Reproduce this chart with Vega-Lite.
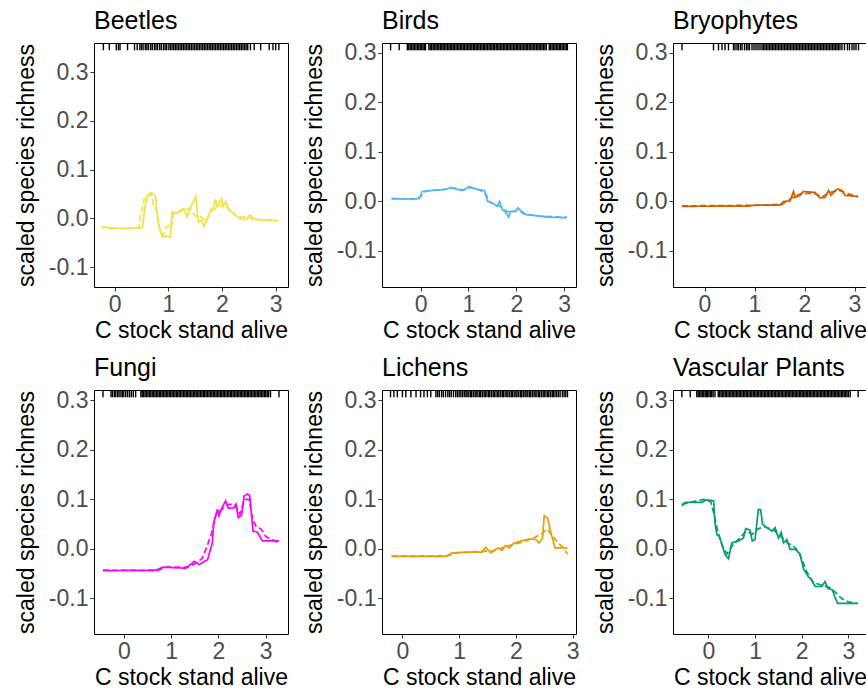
{
  "$schema": "https://vega.github.io/schema/vega-lite/v6.json",
  "background": "white",
  "padding": {"left": 14, "top": 8, "right": 0, "bottom": 0},
  "config": {
    "font": "Liberation Sans",
    "view": {"stroke": "black", "strokeWidth": 1},
    "axis": {"grid": false, "domain": false, "tickColor": "#333333", "tickSize": 4, "labelFontSize": 23, "labelColor": "#4D4D4D", "labelPadding": 2, "titleFontSize": 23, "titleFontWeight": "normal", "titleColor": "black", "titlePadding": 8},
    "axisY": {"titlePadding": 10},
    "axisX": {"titlePadding": 3},
    "title": {"fontSize": 25, "fontWeight": "normal", "anchor": "start", "frame": "group", "color": "black", "offset": 8},
    "line": {"strokeWidth": 1.7, "clip": true},
    "rule": {"color": "black", "strokeWidth": 1.4}
  },
  "columns": 3,
  "spacing": {"row": 12, "column": 13},
  "datasets": {
    "curves": [
      {"t":"Beetles","m":"solid","x":-0.21,"y":-0.017},{"t":"Beetles","m":"solid","x":-0.1,"y":-0.02},{"t":"Beetles","m":"solid","x":0.2,"y":-0.021},{"t":"Beetles","m":"solid","x":0.35,"y":-0.02},{"t":"Beetles","m":"solid","x":0.52,"y":-0.019},{"t":"Beetles","m":"solid","x":0.56,"y":0.02},{"t":"Beetles","m":"solid","x":0.6,"y":0.045},{"t":"Beetles","m":"solid","x":0.67,"y":0.053},{"t":"Beetles","m":"solid","x":0.72,"y":0.05},{"t":"Beetles","m":"solid","x":0.76,"y":0.045},{"t":"Beetles","m":"solid","x":0.8,"y":0.0},{"t":"Beetles","m":"solid","x":0.86,"y":-0.03},{"t":"Beetles","m":"solid","x":0.89,"y":-0.039},{"t":"Beetles","m":"solid","x":0.95,"y":-0.036},{"t":"Beetles","m":"solid","x":1.04,"y":-0.039},{"t":"Beetles","m":"solid","x":1.07,"y":0.014},{"t":"Beetles","m":"solid","x":1.15,"y":0.01},{"t":"Beetles","m":"solid","x":1.23,"y":0.017},{"t":"Beetles","m":"solid","x":1.29,"y":0.02},{"t":"Beetles","m":"solid","x":1.35,"y":0.003},{"t":"Beetles","m":"solid","x":1.42,"y":0.024},{"t":"Beetles","m":"solid","x":1.51,"y":0.045},{"t":"Beetles","m":"solid","x":1.56,"y":-0.007},{"t":"Beetles","m":"solid","x":1.63,"y":-0.004},{"t":"Beetles","m":"solid","x":1.66,"y":-0.017},{"t":"Beetles","m":"solid","x":1.73,"y":0.0},{"t":"Beetles","m":"solid","x":1.79,"y":0.017},{"t":"Beetles","m":"solid","x":1.85,"y":0.024},{"t":"Beetles","m":"solid","x":1.88,"y":0.039},{"t":"Beetles","m":"solid","x":1.91,"y":0.024},{"t":"Beetles","m":"solid","x":1.99,"y":0.041},{"t":"Beetles","m":"solid","x":2.02,"y":0.024},{"t":"Beetles","m":"solid","x":2.07,"y":0.034},{"t":"Beetles","m":"solid","x":2.13,"y":0.017},{"t":"Beetles","m":"solid","x":2.22,"y":0.01},{"t":"Beetles","m":"solid","x":2.32,"y":0.0},{"t":"Beetles","m":"solid","x":2.41,"y":-0.003},{"t":"Beetles","m":"solid","x":2.47,"y":0.0},{"t":"Beetles","m":"solid","x":2.52,"y":0.007},{"t":"Beetles","m":"solid","x":2.6,"y":-0.002},{"t":"Beetles","m":"solid","x":2.75,"y":-0.003},{"t":"Beetles","m":"solid","x":3.05,"y":-0.005},
      {"t":"Beetles","m":"dashed","x":-0.25,"y":-0.018},{"t":"Beetles","m":"dashed","x":0.2,"y":-0.021},{"t":"Beetles","m":"dashed","x":0.45,"y":-0.02},{"t":"Beetles","m":"dashed","x":0.47,"y":0.0},{"t":"Beetles","m":"dashed","x":0.55,"y":0.04},{"t":"Beetles","m":"dashed","x":0.68,"y":0.05},{"t":"Beetles","m":"dashed","x":0.72,"y":0.03},{"t":"Beetles","m":"dashed","x":0.77,"y":0.02},{"t":"Beetles","m":"dashed","x":0.83,"y":-0.02},{"t":"Beetles","m":"dashed","x":0.9,"y":-0.035},{"t":"Beetles","m":"dashed","x":0.95,"y":-0.02},{"t":"Beetles","m":"dashed","x":1.0,"y":-0.015},{"t":"Beetles","m":"dashed","x":1.05,"y":-0.02},{"t":"Beetles","m":"dashed","x":1.1,"y":0.01},{"t":"Beetles","m":"dashed","x":1.25,"y":0.015},{"t":"Beetles","m":"dashed","x":1.4,"y":0.02},{"t":"Beetles","m":"dashed","x":1.5,"y":0.005},{"t":"Beetles","m":"dashed","x":1.6,"y":0.004},{"t":"Beetles","m":"dashed","x":1.7,"y":-0.005},{"t":"Beetles","m":"dashed","x":1.8,"y":0.015},{"t":"Beetles","m":"dashed","x":1.95,"y":0.025},{"t":"Beetles","m":"dashed","x":2.05,"y":0.03},{"t":"Beetles","m":"dashed","x":2.15,"y":0.015},{"t":"Beetles","m":"dashed","x":2.3,"y":0.003},{"t":"Beetles","m":"dashed","x":2.5,"y":0.002},{"t":"Beetles","m":"dashed","x":2.6,"y":-0.002},{"t":"Beetles","m":"dashed","x":3.05,"y":-0.005},
      {"t":"Birds","m":"solid","x":-0.61,"y":0.005},{"t":"Birds","m":"solid","x":-0.07,"y":0.005},{"t":"Birds","m":"solid","x":-0.01,"y":0.01},{"t":"Birds","m":"solid","x":0.03,"y":0.02},{"t":"Birds","m":"solid","x":0.24,"y":0.022},{"t":"Birds","m":"solid","x":0.52,"y":0.024},{"t":"Birds","m":"solid","x":0.63,"y":0.028},{"t":"Birds","m":"solid","x":0.73,"y":0.025},{"t":"Birds","m":"solid","x":0.87,"y":0.022},{"t":"Birds","m":"solid","x":1.01,"y":0.03},{"t":"Birds","m":"solid","x":1.15,"y":0.025},{"t":"Birds","m":"solid","x":1.33,"y":0.022},{"t":"Birds","m":"solid","x":1.4,"y":0.0},{"t":"Birds","m":"solid","x":1.5,"y":-0.003},{"t":"Birds","m":"solid","x":1.6,"y":-0.01},{"t":"Birds","m":"solid","x":1.65,"y":0.0},{"t":"Birds","m":"solid","x":1.71,"y":-0.017},{"t":"Birds","m":"solid","x":1.78,"y":-0.022},{"t":"Birds","m":"solid","x":1.84,"y":-0.032},{"t":"Birds","m":"solid","x":1.88,"y":-0.02},{"t":"Birds","m":"solid","x":1.99,"y":-0.02},{"t":"Birds","m":"solid","x":2.04,"y":-0.013},{"t":"Birds","m":"solid","x":2.13,"y":-0.024},{"t":"Birds","m":"solid","x":2.21,"y":-0.027},{"t":"Birds","m":"solid","x":2.41,"y":-0.029},{"t":"Birds","m":"solid","x":2.69,"y":-0.032},{"t":"Birds","m":"solid","x":3.06,"y":-0.033},
      {"t":"Birds","m":"dashed","x":-0.61,"y":0.006},{"t":"Birds","m":"dashed","x":-0.05,"y":0.004},{"t":"Birds","m":"dashed","x":0.02,"y":0.012},{"t":"Birds","m":"dashed","x":0.1,"y":0.02},{"t":"Birds","m":"dashed","x":0.3,"y":0.023},{"t":"Birds","m":"dashed","x":0.6,"y":0.025},{"t":"Birds","m":"dashed","x":0.7,"y":0.027},{"t":"Birds","m":"dashed","x":0.9,"y":0.023},{"t":"Birds","m":"dashed","x":1.05,"y":0.028},{"t":"Birds","m":"dashed","x":1.2,"y":0.024},{"t":"Birds","m":"dashed","x":1.35,"y":0.018},{"t":"Birds","m":"dashed","x":1.45,"y":-0.002},{"t":"Birds","m":"dashed","x":1.55,"y":-0.006},{"t":"Birds","m":"dashed","x":1.7,"y":-0.012},{"t":"Birds","m":"dashed","x":1.8,"y":-0.02},{"t":"Birds","m":"dashed","x":1.9,"y":-0.022},{"t":"Birds","m":"dashed","x":2.05,"y":-0.016},{"t":"Birds","m":"dashed","x":2.2,"y":-0.026},{"t":"Birds","m":"dashed","x":2.5,"y":-0.03},{"t":"Birds","m":"dashed","x":3.06,"y":-0.032},
      {"t":"Bryophytes","m":"solid","x":-0.45,"y":-0.01},{"t":"Bryophytes","m":"solid","x":0.88,"y":-0.0095},{"t":"Bryophytes","m":"solid","x":1.01,"y":-0.0075},{"t":"Bryophytes","m":"solid","x":1.51,"y":-0.0075},{"t":"Bryophytes","m":"solid","x":1.58,"y":0.0},{"t":"Bryophytes","m":"solid","x":1.71,"y":0.001},{"t":"Bryophytes","m":"solid","x":1.78,"y":0.02},{"t":"Bryophytes","m":"solid","x":1.81,"y":0.008},{"t":"Bryophytes","m":"solid","x":1.91,"y":0.012},{"t":"Bryophytes","m":"solid","x":1.98,"y":0.02},{"t":"Bryophytes","m":"solid","x":2.21,"y":0.018},{"t":"Bryophytes","m":"solid","x":2.31,"y":0.007},{"t":"Bryophytes","m":"solid","x":2.41,"y":0.008},{"t":"Bryophytes","m":"solid","x":2.48,"y":0.022},{"t":"Bryophytes","m":"solid","x":2.53,"y":0.012},{"t":"Bryophytes","m":"solid","x":2.61,"y":0.022},{"t":"Bryophytes","m":"solid","x":2.68,"y":0.025},{"t":"Bryophytes","m":"solid","x":2.75,"y":0.022},{"t":"Bryophytes","m":"solid","x":2.81,"y":0.012},{"t":"Bryophytes","m":"solid","x":3.07,"y":0.01},
      {"t":"Bryophytes","m":"dashed","x":-0.45,"y":-0.009},{"t":"Bryophytes","m":"dashed","x":1.0,"y":-0.008},{"t":"Bryophytes","m":"dashed","x":1.55,"y":-0.006},{"t":"Bryophytes","m":"dashed","x":1.7,"y":0.004},{"t":"Bryophytes","m":"dashed","x":1.8,"y":0.01},{"t":"Bryophytes","m":"dashed","x":1.95,"y":0.016},{"t":"Bryophytes","m":"dashed","x":2.2,"y":0.016},{"t":"Bryophytes","m":"dashed","x":2.35,"y":0.009},{"t":"Bryophytes","m":"dashed","x":2.5,"y":0.018},{"t":"Bryophytes","m":"dashed","x":2.7,"y":0.022},{"t":"Bryophytes","m":"dashed","x":2.85,"y":0.016},{"t":"Bryophytes","m":"dashed","x":3.07,"y":0.009},
      {"t":"Fungi","m":"solid","x":-0.44,"y":-0.044},{"t":"Fungi","m":"solid","x":0.68,"y":-0.043},{"t":"Fungi","m":"solid","x":0.82,"y":-0.037},{"t":"Fungi","m":"solid","x":1.31,"y":-0.039},{"t":"Fungi","m":"solid","x":1.49,"y":-0.025},{"t":"Fungi","m":"solid","x":1.59,"y":-0.032},{"t":"Fungi","m":"solid","x":1.77,"y":-0.022},{"t":"Fungi","m":"solid","x":1.87,"y":0.012},{"t":"Fungi","m":"solid","x":1.9,"y":0.053},{"t":"Fungi","m":"solid","x":1.98,"y":0.08},{"t":"Fungi","m":"solid","x":2.01,"y":0.067},{"t":"Fungi","m":"solid","x":2.08,"y":0.084},{"t":"Fungi","m":"solid","x":2.15,"y":0.097},{"t":"Fungi","m":"solid","x":2.21,"y":0.082},{"t":"Fungi","m":"solid","x":2.33,"y":0.083},{"t":"Fungi","m":"solid","x":2.37,"y":0.09},{"t":"Fungi","m":"solid","x":2.42,"y":0.063},{"t":"Fungi","m":"solid","x":2.49,"y":0.068},{"t":"Fungi","m":"solid","x":2.54,"y":0.107},{"t":"Fungi","m":"solid","x":2.61,"y":0.111},{"t":"Fungi","m":"solid","x":2.66,"y":0.108},{"t":"Fungi","m":"solid","x":2.73,"y":0.036},{"t":"Fungi","m":"solid","x":2.82,"y":0.034},{"t":"Fungi","m":"solid","x":2.93,"y":0.016},{"t":"Fungi","m":"solid","x":3.28,"y":0.016},
      {"t":"Fungi","m":"dashed","x":-0.44,"y":-0.043},{"t":"Fungi","m":"dashed","x":0.7,"y":-0.044},{"t":"Fungi","m":"dashed","x":0.9,"y":-0.037},{"t":"Fungi","m":"dashed","x":1.35,"y":-0.037},{"t":"Fungi","m":"dashed","x":1.5,"y":-0.03},{"t":"Fungi","m":"dashed","x":1.65,"y":-0.02},{"t":"Fungi","m":"dashed","x":1.75,"y":0.003},{"t":"Fungi","m":"dashed","x":1.85,"y":0.03},{"t":"Fungi","m":"dashed","x":1.95,"y":0.07},{"t":"Fungi","m":"dashed","x":2.05,"y":0.078},{"t":"Fungi","m":"dashed","x":2.2,"y":0.09},{"t":"Fungi","m":"dashed","x":2.35,"y":0.09},{"t":"Fungi","m":"dashed","x":2.45,"y":0.07},{"t":"Fungi","m":"dashed","x":2.55,"y":0.1},{"t":"Fungi","m":"dashed","x":2.65,"y":0.1},{"t":"Fungi","m":"dashed","x":2.72,"y":0.06},{"t":"Fungi","m":"dashed","x":2.8,"y":0.045},{"t":"Fungi","m":"dashed","x":2.9,"y":0.04},{"t":"Fungi","m":"dashed","x":3.0,"y":0.025},{"t":"Fungi","m":"dashed","x":3.28,"y":0.012},
      {"t":"Lichens","m":"solid","x":-0.19,"y":-0.015},{"t":"Lichens","m":"solid","x":0.76,"y":-0.015},{"t":"Lichens","m":"solid","x":0.88,"y":-0.008},{"t":"Lichens","m":"solid","x":1.29,"y":-0.006},{"t":"Lichens","m":"solid","x":1.4,"y":-0.007},{"t":"Lichens","m":"solid","x":1.47,"y":0.003},{"t":"Lichens","m":"solid","x":1.56,"y":-0.008},{"t":"Lichens","m":"solid","x":1.68,"y":0.002},{"t":"Lichens","m":"solid","x":1.76,"y":-0.003},{"t":"Lichens","m":"solid","x":1.82,"y":0.007},{"t":"Lichens","m":"solid","x":1.88,"y":0.002},{"t":"Lichens","m":"solid","x":1.97,"y":0.012},{"t":"Lichens","m":"solid","x":2.06,"y":0.015},{"t":"Lichens","m":"solid","x":2.12,"y":0.017},{"t":"Lichens","m":"solid","x":2.24,"y":0.02},{"t":"Lichens","m":"solid","x":2.35,"y":0.019},{"t":"Lichens","m":"solid","x":2.41,"y":0.012},{"t":"Lichens","m":"solid","x":2.47,"y":0.022},{"t":"Lichens","m":"solid","x":2.5,"y":0.067},{"t":"Lichens","m":"solid","x":2.56,"y":0.062},{"t":"Lichens","m":"solid","x":2.62,"y":0.032},{"t":"Lichens","m":"solid","x":2.69,"y":0.002},{"t":"Lichens","m":"solid","x":2.91,"y":0.002},
      {"t":"Lichens","m":"dashed","x":-0.19,"y":-0.014},{"t":"Lichens","m":"dashed","x":0.8,"y":-0.014},{"t":"Lichens","m":"dashed","x":0.95,"y":-0.008},{"t":"Lichens","m":"dashed","x":1.4,"y":-0.005},{"t":"Lichens","m":"dashed","x":1.6,"y":-0.004},{"t":"Lichens","m":"dashed","x":1.8,"y":0.004},{"t":"Lichens","m":"dashed","x":2.0,"y":0.01},{"t":"Lichens","m":"dashed","x":2.2,"y":0.017},{"t":"Lichens","m":"dashed","x":2.35,"y":0.024},{"t":"Lichens","m":"dashed","x":2.45,"y":0.03},{"t":"Lichens","m":"dashed","x":2.55,"y":0.04},{"t":"Lichens","m":"dashed","x":2.65,"y":0.025},{"t":"Lichens","m":"dashed","x":2.75,"y":0.012},{"t":"Lichens","m":"dashed","x":2.85,"y":0.0},{"t":"Lichens","m":"dashed","x":2.91,"y":-0.011},
      {"t":"Vascular Plants","m":"solid","x":-0.57,"y":0.087},{"t":"Vascular Plants","m":"solid","x":-0.5,"y":0.094},{"t":"Vascular Plants","m":"solid","x":-0.14,"y":0.094},{"t":"Vascular Plants","m":"solid","x":-0.04,"y":0.099},{"t":"Vascular Plants","m":"solid","x":0.11,"y":0.097},{"t":"Vascular Plants","m":"solid","x":0.14,"y":0.053},{"t":"Vascular Plants","m":"solid","x":0.18,"y":0.029},{"t":"Vascular Plants","m":"solid","x":0.23,"y":0.026},{"t":"Vascular Plants","m":"solid","x":0.29,"y":0.009},{"t":"Vascular Plants","m":"solid","x":0.36,"y":-0.012},{"t":"Vascular Plants","m":"solid","x":0.43,"y":-0.02},{"t":"Vascular Plants","m":"solid","x":0.5,"y":0.012},{"t":"Vascular Plants","m":"solid","x":0.64,"y":0.016},{"t":"Vascular Plants","m":"solid","x":0.75,"y":0.022},{"t":"Vascular Plants","m":"solid","x":0.8,"y":0.041},{"t":"Vascular Plants","m":"solid","x":0.89,"y":0.038},{"t":"Vascular Plants","m":"solid","x":0.94,"y":0.016},{"t":"Vascular Plants","m":"solid","x":1.0,"y":0.019},{"t":"Vascular Plants","m":"solid","x":1.07,"y":0.08},{"t":"Vascular Plants","m":"solid","x":1.12,"y":0.079},{"t":"Vascular Plants","m":"solid","x":1.16,"y":0.05},{"t":"Vascular Plants","m":"solid","x":1.25,"y":0.043},{"t":"Vascular Plants","m":"solid","x":1.36,"y":0.036},{"t":"Vascular Plants","m":"solid","x":1.43,"y":0.043},{"t":"Vascular Plants","m":"solid","x":1.5,"y":0.022},{"t":"Vascular Plants","m":"solid","x":1.56,"y":0.033},{"t":"Vascular Plants","m":"solid","x":1.61,"y":0.012},{"t":"Vascular Plants","m":"solid","x":1.68,"y":0.019},{"t":"Vascular Plants","m":"solid","x":1.75,"y":-0.001},{"t":"Vascular Plants","m":"solid","x":1.86,"y":-0.001},{"t":"Vascular Plants","m":"solid","x":1.96,"y":-0.01},{"t":"Vascular Plants","m":"solid","x":2.04,"y":-0.041},{"t":"Vascular Plants","m":"solid","x":2.14,"y":-0.056},{"t":"Vascular Plants","m":"solid","x":2.21,"y":-0.063},{"t":"Vascular Plants","m":"solid","x":2.29,"y":-0.076},{"t":"Vascular Plants","m":"solid","x":2.43,"y":-0.076},{"t":"Vascular Plants","m":"solid","x":2.5,"y":-0.066},{"t":"Vascular Plants","m":"solid","x":2.56,"y":-0.08},{"t":"Vascular Plants","m":"solid","x":2.66,"y":-0.083},{"t":"Vascular Plants","m":"solid","x":2.71,"y":-0.097},{"t":"Vascular Plants","m":"solid","x":2.77,"y":-0.11},{"t":"Vascular Plants","m":"solid","x":3.2,"y":-0.11},
      {"t":"Vascular Plants","m":"dashed","x":-0.57,"y":0.09},{"t":"Vascular Plants","m":"dashed","x":-0.3,"y":0.096},{"t":"Vascular Plants","m":"dashed","x":-0.1,"y":0.1},{"t":"Vascular Plants","m":"dashed","x":0.05,"y":0.095},{"t":"Vascular Plants","m":"dashed","x":0.12,"y":0.07},{"t":"Vascular Plants","m":"dashed","x":0.2,"y":0.035},{"t":"Vascular Plants","m":"dashed","x":0.3,"y":0.005},{"t":"Vascular Plants","m":"dashed","x":0.4,"y":-0.01},{"t":"Vascular Plants","m":"dashed","x":0.5,"y":0.005},{"t":"Vascular Plants","m":"dashed","x":0.6,"y":0.015},{"t":"Vascular Plants","m":"dashed","x":0.8,"y":0.035},{"t":"Vascular Plants","m":"dashed","x":0.95,"y":0.03},{"t":"Vascular Plants","m":"dashed","x":1.05,"y":0.04},{"t":"Vascular Plants","m":"dashed","x":1.2,"y":0.045},{"t":"Vascular Plants","m":"dashed","x":1.4,"y":0.038},{"t":"Vascular Plants","m":"dashed","x":1.55,"y":0.025},{"t":"Vascular Plants","m":"dashed","x":1.7,"y":0.012},{"t":"Vascular Plants","m":"dashed","x":1.85,"y":0.003},{"t":"Vascular Plants","m":"dashed","x":1.95,"y":-0.008},{"t":"Vascular Plants","m":"dashed","x":2.1,"y":-0.045},{"t":"Vascular Plants","m":"dashed","x":2.25,"y":-0.068},{"t":"Vascular Plants","m":"dashed","x":2.45,"y":-0.074},{"t":"Vascular Plants","m":"dashed","x":2.6,"y":-0.078},{"t":"Vascular Plants","m":"dashed","x":2.75,"y":-0.09},{"t":"Vascular Plants","m":"dashed","x":2.85,"y":-0.1},{"t":"Vascular Plants","m":"dashed","x":3.0,"y":-0.107},{"t":"Vascular Plants","m":"dashed","x":3.2,"y":-0.11}
    ],
    "rug": [
      {"t":"Beetles","x":-0.21},{"t":"Beetles","x":-0.1},{"t":"Beetles","x":0.03},{"t":"Beetles","x":0.07},{"t":"Beetles","x":0.1},{"t":"Beetles","x":0.24},{"t":"Beetles","x":0.37},{"t":"Beetles","x":0.42},{"t":"Beetles","x":0.47},{"t":"Beetles","x":0.5},{"t":"Beetles","x":0.53},{"t":"Beetles","x":0.57},{"t":"Beetles","x":0.6},{"t":"Beetles","x":0.63},{"t":"Beetles","x":0.67},{"t":"Beetles","x":0.7},{"t":"Beetles","x":0.74},{"t":"Beetles","x":0.77},{"t":"Beetles","x":0.8},{"t":"Beetles","x":0.84},{"t":"Beetles","x":0.87},{"t":"Beetles","x":0.91},{"t":"Beetles","x":0.94},{"t":"Beetles","x":0.97},{"t":"Beetles","x":1.01},{"t":"Beetles","x":1.04},{"t":"Beetles","x":1.07},{"t":"Beetles","x":1.1},{"t":"Beetles","x":1.13},{"t":"Beetles","x":1.16},{"t":"Beetles","x":1.19},{"t":"Beetles","x":1.22},{"t":"Beetles","x":1.25},{"t":"Beetles","x":1.28},{"t":"Beetles","x":1.31},{"t":"Beetles","x":1.34},{"t":"Beetles","x":1.37},{"t":"Beetles","x":1.4},{"t":"Beetles","x":1.43},{"t":"Beetles","x":1.46},{"t":"Beetles","x":1.49},{"t":"Beetles","x":1.52},{"t":"Beetles","x":1.55},{"t":"Beetles","x":1.58},{"t":"Beetles","x":1.61},{"t":"Beetles","x":1.64},{"t":"Beetles","x":1.67},{"t":"Beetles","x":1.7},{"t":"Beetles","x":1.73},{"t":"Beetles","x":1.76},{"t":"Beetles","x":1.79},{"t":"Beetles","x":1.82},{"t":"Beetles","x":1.85},{"t":"Beetles","x":1.88},{"t":"Beetles","x":1.91},{"t":"Beetles","x":1.94},{"t":"Beetles","x":1.97},{"t":"Beetles","x":2.0},{"t":"Beetles","x":2.03},{"t":"Beetles","x":2.06},{"t":"Beetles","x":2.09},{"t":"Beetles","x":2.12},{"t":"Beetles","x":2.15},{"t":"Beetles","x":2.18},{"t":"Beetles","x":2.21},{"t":"Beetles","x":2.24},{"t":"Beetles","x":2.27},{"t":"Beetles","x":2.3},{"t":"Beetles","x":2.33},{"t":"Beetles","x":2.36},{"t":"Beetles","x":2.39},{"t":"Beetles","x":2.42},{"t":"Beetles","x":2.45},{"t":"Beetles","x":2.48},{"t":"Beetles","x":2.53},{"t":"Beetles","x":2.6},{"t":"Beetles","x":2.72},{"t":"Beetles","x":2.88},{"t":"Beetles","x":2.95},{"t":"Beetles","x":3.0},{"t":"Beetles","x":3.06},
      {"t":"Birds","x":-0.63},{"t":"Birds","x":-0.45},{"t":"Birds","x":-0.28},{"t":"Birds","x":-0.25},{"t":"Birds","x":-0.22},{"t":"Birds","x":-0.19},{"t":"Birds","x":-0.16},{"t":"Birds","x":-0.13},{"t":"Birds","x":-0.1},{"t":"Birds","x":-0.07},{"t":"Birds","x":-0.04},{"t":"Birds","x":-0.01},{"t":"Birds","x":0.02},{"t":"Birds","x":0.05},{"t":"Birds","x":0.08},{"t":"Birds","x":0.1},{"t":"Birds","x":0.17},{"t":"Birds","x":0.2},{"t":"Birds","x":0.23},{"t":"Birds","x":0.26},{"t":"Birds","x":0.29},{"t":"Birds","x":0.32},{"t":"Birds","x":0.35},{"t":"Birds","x":0.38},{"t":"Birds","x":0.41},{"t":"Birds","x":0.44},{"t":"Birds","x":0.47},{"t":"Birds","x":0.5},{"t":"Birds","x":0.53},{"t":"Birds","x":0.56},{"t":"Birds","x":0.59},{"t":"Birds","x":0.62},{"t":"Birds","x":0.65},{"t":"Birds","x":0.68},{"t":"Birds","x":0.71},{"t":"Birds","x":0.74},{"t":"Birds","x":0.77},{"t":"Birds","x":0.8},{"t":"Birds","x":0.83},{"t":"Birds","x":0.86},{"t":"Birds","x":0.89},{"t":"Birds","x":0.92},{"t":"Birds","x":0.95},{"t":"Birds","x":0.98},{"t":"Birds","x":1.01},{"t":"Birds","x":1.04},{"t":"Birds","x":1.07},{"t":"Birds","x":1.1},{"t":"Birds","x":1.13},{"t":"Birds","x":1.16},{"t":"Birds","x":1.19},{"t":"Birds","x":1.22},{"t":"Birds","x":1.25},{"t":"Birds","x":1.28},{"t":"Birds","x":1.31},{"t":"Birds","x":1.34},{"t":"Birds","x":1.37},{"t":"Birds","x":1.4},{"t":"Birds","x":1.43},{"t":"Birds","x":1.46},{"t":"Birds","x":1.49},{"t":"Birds","x":1.52},{"t":"Birds","x":1.55},{"t":"Birds","x":1.58},{"t":"Birds","x":1.61},{"t":"Birds","x":1.64},{"t":"Birds","x":1.67},{"t":"Birds","x":1.7},{"t":"Birds","x":1.73},{"t":"Birds","x":1.76},{"t":"Birds","x":1.79},{"t":"Birds","x":1.82},{"t":"Birds","x":1.85},{"t":"Birds","x":1.88},{"t":"Birds","x":1.91},{"t":"Birds","x":1.94},{"t":"Birds","x":1.97},{"t":"Birds","x":2.0},{"t":"Birds","x":2.03},{"t":"Birds","x":2.06},{"t":"Birds","x":2.09},{"t":"Birds","x":2.12},{"t":"Birds","x":2.15},{"t":"Birds","x":2.18},{"t":"Birds","x":2.21},{"t":"Birds","x":2.24},{"t":"Birds","x":2.27},{"t":"Birds","x":2.3},{"t":"Birds","x":2.33},{"t":"Birds","x":2.36},{"t":"Birds","x":2.39},{"t":"Birds","x":2.42},{"t":"Birds","x":2.45},{"t":"Birds","x":2.48},{"t":"Birds","x":2.51},{"t":"Birds","x":2.54},{"t":"Birds","x":2.57},{"t":"Birds","x":2.6},{"t":"Birds","x":2.63},{"t":"Birds","x":2.69},{"t":"Birds","x":2.72},{"t":"Birds","x":2.75},{"t":"Birds","x":2.78},{"t":"Birds","x":2.81},{"t":"Birds","x":2.84},{"t":"Birds","x":2.87},{"t":"Birds","x":2.9},{"t":"Birds","x":2.93},{"t":"Birds","x":2.96},{"t":"Birds","x":2.99},{"t":"Birds","x":3.02},{"t":"Birds","x":3.05},{"t":"Birds","x":3.07},
      {"t":"Bryophytes","x":-0.45},{"t":"Bryophytes","x":0.18},{"t":"Bryophytes","x":0.28},{"t":"Bryophytes","x":0.35},{"t":"Bryophytes","x":0.41},{"t":"Bryophytes","x":0.48},{"t":"Bryophytes","x":0.58},{"t":"Bryophytes","x":0.61},{"t":"Bryophytes","x":0.65},{"t":"Bryophytes","x":0.68},{"t":"Bryophytes","x":0.72},{"t":"Bryophytes","x":0.75},{"t":"Bryophytes","x":0.8},{"t":"Bryophytes","x":0.84},{"t":"Bryophytes","x":0.87},{"t":"Bryophytes","x":0.9},{"t":"Bryophytes","x":0.95},{"t":"Bryophytes","x":0.99},{"t":"Bryophytes","x":1.03},{"t":"Bryophytes","x":1.07},{"t":"Bryophytes","x":1.11},{"t":"Bryophytes","x":1.15},{"t":"Bryophytes","x":1.18},{"t":"Bryophytes","x":1.21},{"t":"Bryophytes","x":1.24},{"t":"Bryophytes","x":1.27},{"t":"Bryophytes","x":1.3},{"t":"Bryophytes","x":1.33},{"t":"Bryophytes","x":1.36},{"t":"Bryophytes","x":1.39},{"t":"Bryophytes","x":1.42},{"t":"Bryophytes","x":1.45},{"t":"Bryophytes","x":1.48},{"t":"Bryophytes","x":1.51},{"t":"Bryophytes","x":1.54},{"t":"Bryophytes","x":1.57},{"t":"Bryophytes","x":1.6},{"t":"Bryophytes","x":1.63},{"t":"Bryophytes","x":1.66},{"t":"Bryophytes","x":1.69},{"t":"Bryophytes","x":1.72},{"t":"Bryophytes","x":1.75},{"t":"Bryophytes","x":1.78},{"t":"Bryophytes","x":1.81},{"t":"Bryophytes","x":1.84},{"t":"Bryophytes","x":1.87},{"t":"Bryophytes","x":1.9},{"t":"Bryophytes","x":1.93},{"t":"Bryophytes","x":1.96},{"t":"Bryophytes","x":1.99},{"t":"Bryophytes","x":2.02},{"t":"Bryophytes","x":2.05},{"t":"Bryophytes","x":2.08},{"t":"Bryophytes","x":2.11},{"t":"Bryophytes","x":2.14},{"t":"Bryophytes","x":2.17},{"t":"Bryophytes","x":2.2},{"t":"Bryophytes","x":2.23},{"t":"Bryophytes","x":2.26},{"t":"Bryophytes","x":2.29},{"t":"Bryophytes","x":2.32},{"t":"Bryophytes","x":2.35},{"t":"Bryophytes","x":2.38},{"t":"Bryophytes","x":2.41},{"t":"Bryophytes","x":2.44},{"t":"Bryophytes","x":2.47},{"t":"Bryophytes","x":2.5},{"t":"Bryophytes","x":2.53},{"t":"Bryophytes","x":2.56},{"t":"Bryophytes","x":2.59},{"t":"Bryophytes","x":2.62},{"t":"Bryophytes","x":2.65},{"t":"Bryophytes","x":2.68},{"t":"Bryophytes","x":2.71},{"t":"Bryophytes","x":2.75},{"t":"Bryophytes","x":2.8},{"t":"Bryophytes","x":2.86},{"t":"Bryophytes","x":2.9},{"t":"Bryophytes","x":2.95},{"t":"Bryophytes","x":2.99},{"t":"Bryophytes","x":3.03},{"t":"Bryophytes","x":3.08},
      {"t":"Fungi","x":-0.44},{"t":"Fungi","x":-0.27},{"t":"Fungi","x":-0.24},{"t":"Fungi","x":-0.2},{"t":"Fungi","x":-0.17},{"t":"Fungi","x":-0.13},{"t":"Fungi","x":-0.1},{"t":"Fungi","x":-0.06},{"t":"Fungi","x":-0.03},{"t":"Fungi","x":0.0},{"t":"Fungi","x":0.04},{"t":"Fungi","x":0.08},{"t":"Fungi","x":0.12},{"t":"Fungi","x":0.16},{"t":"Fungi","x":0.2},{"t":"Fungi","x":0.25},{"t":"Fungi","x":0.36},{"t":"Fungi","x":0.39},{"t":"Fungi","x":0.42},{"t":"Fungi","x":0.45},{"t":"Fungi","x":0.48},{"t":"Fungi","x":0.51},{"t":"Fungi","x":0.54},{"t":"Fungi","x":0.57},{"t":"Fungi","x":0.6},{"t":"Fungi","x":0.63},{"t":"Fungi","x":0.66},{"t":"Fungi","x":0.69},{"t":"Fungi","x":0.72},{"t":"Fungi","x":0.75},{"t":"Fungi","x":0.78},{"t":"Fungi","x":0.81},{"t":"Fungi","x":0.84},{"t":"Fungi","x":0.87},{"t":"Fungi","x":0.9},{"t":"Fungi","x":0.93},{"t":"Fungi","x":0.96},{"t":"Fungi","x":0.99},{"t":"Fungi","x":1.02},{"t":"Fungi","x":1.05},{"t":"Fungi","x":1.08},{"t":"Fungi","x":1.11},{"t":"Fungi","x":1.14},{"t":"Fungi","x":1.17},{"t":"Fungi","x":1.2},{"t":"Fungi","x":1.23},{"t":"Fungi","x":1.26},{"t":"Fungi","x":1.29},{"t":"Fungi","x":1.32},{"t":"Fungi","x":1.35},{"t":"Fungi","x":1.38},{"t":"Fungi","x":1.41},{"t":"Fungi","x":1.44},{"t":"Fungi","x":1.47},{"t":"Fungi","x":1.5},{"t":"Fungi","x":1.53},{"t":"Fungi","x":1.56},{"t":"Fungi","x":1.59},{"t":"Fungi","x":1.62},{"t":"Fungi","x":1.65},{"t":"Fungi","x":1.68},{"t":"Fungi","x":1.71},{"t":"Fungi","x":1.74},{"t":"Fungi","x":1.77},{"t":"Fungi","x":1.8},{"t":"Fungi","x":1.83},{"t":"Fungi","x":1.86},{"t":"Fungi","x":1.89},{"t":"Fungi","x":1.92},{"t":"Fungi","x":1.95},{"t":"Fungi","x":1.98},{"t":"Fungi","x":2.01},{"t":"Fungi","x":2.04},{"t":"Fungi","x":2.07},{"t":"Fungi","x":2.1},{"t":"Fungi","x":2.13},{"t":"Fungi","x":2.16},{"t":"Fungi","x":2.19},{"t":"Fungi","x":2.22},{"t":"Fungi","x":2.25},{"t":"Fungi","x":2.28},{"t":"Fungi","x":2.31},{"t":"Fungi","x":2.34},{"t":"Fungi","x":2.37},{"t":"Fungi","x":2.4},{"t":"Fungi","x":2.43},{"t":"Fungi","x":2.46},{"t":"Fungi","x":2.49},{"t":"Fungi","x":2.52},{"t":"Fungi","x":2.55},{"t":"Fungi","x":2.58},{"t":"Fungi","x":2.61},{"t":"Fungi","x":2.64},{"t":"Fungi","x":2.67},{"t":"Fungi","x":2.7},{"t":"Fungi","x":2.73},{"t":"Fungi","x":2.76},{"t":"Fungi","x":2.79},{"t":"Fungi","x":2.82},{"t":"Fungi","x":2.85},{"t":"Fungi","x":2.88},{"t":"Fungi","x":2.91},{"t":"Fungi","x":2.94},{"t":"Fungi","x":2.97},{"t":"Fungi","x":3.0},{"t":"Fungi","x":3.03},{"t":"Fungi","x":3.06},{"t":"Fungi","x":3.1},{"t":"Fungi","x":3.28},
      {"t":"Lichens","x":-0.21},{"t":"Lichens","x":-0.15},{"t":"Lichens","x":-0.09},{"t":"Lichens","x":0.0},{"t":"Lichens","x":0.06},{"t":"Lichens","x":0.15},{"t":"Lichens","x":0.24},{"t":"Lichens","x":0.32},{"t":"Lichens","x":0.38},{"t":"Lichens","x":0.44},{"t":"Lichens","x":0.5},{"t":"Lichens","x":0.59},{"t":"Lichens","x":0.62},{"t":"Lichens","x":0.65},{"t":"Lichens","x":0.69},{"t":"Lichens","x":0.72},{"t":"Lichens","x":0.76},{"t":"Lichens","x":0.8},{"t":"Lichens","x":0.83},{"t":"Lichens","x":0.86},{"t":"Lichens","x":0.9},{"t":"Lichens","x":0.94},{"t":"Lichens","x":0.97},{"t":"Lichens","x":1.0},{"t":"Lichens","x":1.03},{"t":"Lichens","x":1.06},{"t":"Lichens","x":1.09},{"t":"Lichens","x":1.12},{"t":"Lichens","x":1.14},{"t":"Lichens","x":1.17},{"t":"Lichens","x":1.2},{"t":"Lichens","x":1.22},{"t":"Lichens","x":1.25},{"t":"Lichens","x":1.28},{"t":"Lichens","x":1.3},{"t":"Lichens","x":1.33},{"t":"Lichens","x":1.36},{"t":"Lichens","x":1.38},{"t":"Lichens","x":1.41},{"t":"Lichens","x":1.44},{"t":"Lichens","x":1.46},{"t":"Lichens","x":1.49},{"t":"Lichens","x":1.52},{"t":"Lichens","x":1.54},{"t":"Lichens","x":1.57},{"t":"Lichens","x":1.6},{"t":"Lichens","x":1.62},{"t":"Lichens","x":1.65},{"t":"Lichens","x":1.68},{"t":"Lichens","x":1.7},{"t":"Lichens","x":1.73},{"t":"Lichens","x":1.76},{"t":"Lichens","x":1.78},{"t":"Lichens","x":1.81},{"t":"Lichens","x":1.84},{"t":"Lichens","x":1.86},{"t":"Lichens","x":1.89},{"t":"Lichens","x":1.92},{"t":"Lichens","x":1.94},{"t":"Lichens","x":1.97},{"t":"Lichens","x":2.0},{"t":"Lichens","x":2.02},{"t":"Lichens","x":2.05},{"t":"Lichens","x":2.08},{"t":"Lichens","x":2.1},{"t":"Lichens","x":2.13},{"t":"Lichens","x":2.16},{"t":"Lichens","x":2.18},{"t":"Lichens","x":2.21},{"t":"Lichens","x":2.24},{"t":"Lichens","x":2.26},{"t":"Lichens","x":2.29},{"t":"Lichens","x":2.32},{"t":"Lichens","x":2.34},{"t":"Lichens","x":2.37},{"t":"Lichens","x":2.4},{"t":"Lichens","x":2.42},{"t":"Lichens","x":2.45},{"t":"Lichens","x":2.48},{"t":"Lichens","x":2.5},{"t":"Lichens","x":2.53},{"t":"Lichens","x":2.56},{"t":"Lichens","x":2.58},{"t":"Lichens","x":2.61},{"t":"Lichens","x":2.64},{"t":"Lichens","x":2.66},{"t":"Lichens","x":2.69},{"t":"Lichens","x":2.72},{"t":"Lichens","x":2.75},{"t":"Lichens","x":2.78},{"t":"Lichens","x":2.82},{"t":"Lichens","x":2.85},{"t":"Lichens","x":2.88},{"t":"Lichens","x":2.91},
      {"t":"Vascular Plants","x":-0.57},{"t":"Vascular Plants","x":-0.39},{"t":"Vascular Plants","x":-0.25},{"t":"Vascular Plants","x":-0.22},{"t":"Vascular Plants","x":-0.19},{"t":"Vascular Plants","x":-0.16},{"t":"Vascular Plants","x":-0.13},{"t":"Vascular Plants","x":-0.1},{"t":"Vascular Plants","x":-0.07},{"t":"Vascular Plants","x":-0.04},{"t":"Vascular Plants","x":-0.02},{"t":"Vascular Plants","x":0.01},{"t":"Vascular Plants","x":0.04},{"t":"Vascular Plants","x":0.07},{"t":"Vascular Plants","x":0.1},{"t":"Vascular Plants","x":0.14},{"t":"Vascular Plants","x":0.21},{"t":"Vascular Plants","x":0.24},{"t":"Vascular Plants","x":0.27},{"t":"Vascular Plants","x":0.3},{"t":"Vascular Plants","x":0.33},{"t":"Vascular Plants","x":0.36},{"t":"Vascular Plants","x":0.39},{"t":"Vascular Plants","x":0.42},{"t":"Vascular Plants","x":0.45},{"t":"Vascular Plants","x":0.48},{"t":"Vascular Plants","x":0.51},{"t":"Vascular Plants","x":0.54},{"t":"Vascular Plants","x":0.57},{"t":"Vascular Plants","x":0.6},{"t":"Vascular Plants","x":0.63},{"t":"Vascular Plants","x":0.66},{"t":"Vascular Plants","x":0.69},{"t":"Vascular Plants","x":0.72},{"t":"Vascular Plants","x":0.75},{"t":"Vascular Plants","x":0.78},{"t":"Vascular Plants","x":0.81},{"t":"Vascular Plants","x":0.84},{"t":"Vascular Plants","x":0.87},{"t":"Vascular Plants","x":0.9},{"t":"Vascular Plants","x":0.93},{"t":"Vascular Plants","x":0.96},{"t":"Vascular Plants","x":0.99},{"t":"Vascular Plants","x":1.02},{"t":"Vascular Plants","x":1.05},{"t":"Vascular Plants","x":1.08},{"t":"Vascular Plants","x":1.11},{"t":"Vascular Plants","x":1.14},{"t":"Vascular Plants","x":1.17},{"t":"Vascular Plants","x":1.2},{"t":"Vascular Plants","x":1.23},{"t":"Vascular Plants","x":1.26},{"t":"Vascular Plants","x":1.29},{"t":"Vascular Plants","x":1.32},{"t":"Vascular Plants","x":1.35},{"t":"Vascular Plants","x":1.38},{"t":"Vascular Plants","x":1.41},{"t":"Vascular Plants","x":1.44},{"t":"Vascular Plants","x":1.47},{"t":"Vascular Plants","x":1.5},{"t":"Vascular Plants","x":1.53},{"t":"Vascular Plants","x":1.56},{"t":"Vascular Plants","x":1.59},{"t":"Vascular Plants","x":1.62},{"t":"Vascular Plants","x":1.65},{"t":"Vascular Plants","x":1.68},{"t":"Vascular Plants","x":1.71},{"t":"Vascular Plants","x":1.74},{"t":"Vascular Plants","x":1.77},{"t":"Vascular Plants","x":1.8},{"t":"Vascular Plants","x":1.83},{"t":"Vascular Plants","x":1.86},{"t":"Vascular Plants","x":1.89},{"t":"Vascular Plants","x":1.92},{"t":"Vascular Plants","x":1.95},{"t":"Vascular Plants","x":1.98},{"t":"Vascular Plants","x":2.01},{"t":"Vascular Plants","x":2.04},{"t":"Vascular Plants","x":2.07},{"t":"Vascular Plants","x":2.1},{"t":"Vascular Plants","x":2.13},{"t":"Vascular Plants","x":2.16},{"t":"Vascular Plants","x":2.19},{"t":"Vascular Plants","x":2.22},{"t":"Vascular Plants","x":2.25},{"t":"Vascular Plants","x":2.28},{"t":"Vascular Plants","x":2.31},{"t":"Vascular Plants","x":2.34},{"t":"Vascular Plants","x":2.37},{"t":"Vascular Plants","x":2.4},{"t":"Vascular Plants","x":2.43},{"t":"Vascular Plants","x":2.46},{"t":"Vascular Plants","x":2.49},{"t":"Vascular Plants","x":2.52},{"t":"Vascular Plants","x":2.55},{"t":"Vascular Plants","x":2.58},{"t":"Vascular Plants","x":2.61},{"t":"Vascular Plants","x":2.64},{"t":"Vascular Plants","x":2.67},{"t":"Vascular Plants","x":2.7},{"t":"Vascular Plants","x":2.73},{"t":"Vascular Plants","x":2.76},{"t":"Vascular Plants","x":2.79},{"t":"Vascular Plants","x":2.82},{"t":"Vascular Plants","x":2.85},{"t":"Vascular Plants","x":2.88},{"t":"Vascular Plants","x":2.91},{"t":"Vascular Plants","x":2.94},{"t":"Vascular Plants","x":2.97},{"t":"Vascular Plants","x":3.0},{"t":"Vascular Plants","x":3.04},{"t":"Vascular Plants","x":3.21}
    ]
  },
  "concat": [
    {"title": "Beetles", "width": 194, "height": 244, "layer": [
      {"data": {"name": "curves"}, "transform": [{"filter": "datum.t === 'Beetles'"}], "mark": {"type": "line", "color": "#F0E442"},
       "encoding": {"x": {"field": "x", "type": "quantitative", "title": "C stock stand alive", "scale": {"domain": [-0.385, 3.23], "nice": false, "zero": false}, "axis": {"values": [0, 1, 2, 3], "format": "d"}},
                    "y": {"field": "y", "type": "quantitative", "title": "scaled species richness", "scale": {"domain": [-0.141, 0.36], "nice": false, "zero": false}, "axis": {"values": [-0.1, 0, 0.1, 0.2, 0.3], "labelExpr": "datum.value < 0 ? '-' + format(-datum.value, '.1f') : format(datum.value, '.1f')"}},
                    "strokeDash": {"field": "m", "type": "nominal", "scale": {"domain": ["solid", "dashed"], "range": [[1, 0], [6, 3]]}, "legend": null}}},
      {"data": {"name": "rug"}, "transform": [{"filter": "datum.t === 'Beetles'"}], "mark": {"type": "rule"},
       "encoding": {"x": {"field": "x", "type": "quantitative"}, "y": {"datum": 0.36}, "y2": {"datum": 0.345}}}
    ]},
    {"title": "Birds", "width": 194, "height": 244, "layer": [
      {"data": {"name": "curves"}, "transform": [{"filter": "datum.t === 'Birds'"}], "mark": {"type": "line", "color": "#56B4E9"},
       "encoding": {"x": {"field": "x", "type": "quantitative", "title": "C stock stand alive", "scale": {"domain": [-0.81, 3.25], "nice": false, "zero": false}, "axis": {"values": [0, 1, 2, 3], "format": "d"}},
                    "y": {"field": "y", "type": "quantitative", "title": "scaled species richness", "scale": {"domain": [-0.173, 0.32], "nice": false, "zero": false}, "axis": {"values": [-0.1, 0, 0.1, 0.2, 0.3], "labelExpr": "datum.value < 0 ? '-' + format(-datum.value, '.1f') : format(datum.value, '.1f')"}},
                    "strokeDash": {"field": "m", "type": "nominal", "scale": {"domain": ["solid", "dashed"], "range": [[1, 0], [6, 3]]}, "legend": null}}},
      {"data": {"name": "rug"}, "transform": [{"filter": "datum.t === 'Birds'"}], "mark": {"type": "rule"},
       "encoding": {"x": {"field": "x", "type": "quantitative"}, "y": {"datum": 0.32}, "y2": {"datum": 0.3052}}}
    ]},
    {"title": "Bryophytes", "width": 194, "height": 244, "layer": [
      {"data": {"name": "curves"}, "transform": [{"filter": "datum.t === 'Bryophytes'"}], "mark": {"type": "line", "color": "#D55E00"},
       "encoding": {"x": {"field": "x", "type": "quantitative", "title": "C stock stand alive", "scale": {"domain": [-0.63, 3.25], "nice": false, "zero": false}, "axis": {"values": [0, 1, 2, 3], "format": "d"}},
                    "y": {"field": "y", "type": "quantitative", "title": "scaled species richness", "scale": {"domain": [-0.173, 0.32], "nice": false, "zero": false}, "axis": {"values": [-0.1, 0, 0.1, 0.2, 0.3], "labelExpr": "datum.value < 0 ? '-' + format(-datum.value, '.1f') : format(datum.value, '.1f')"}},
                    "strokeDash": {"field": "m", "type": "nominal", "scale": {"domain": ["solid", "dashed"], "range": [[1, 0], [6, 3]]}, "legend": null}}},
      {"data": {"name": "rug"}, "transform": [{"filter": "datum.t === 'Bryophytes'"}], "mark": {"type": "rule"},
       "encoding": {"x": {"field": "x", "type": "quantitative"}, "y": {"datum": 0.32}, "y2": {"datum": 0.3052}}}
    ]},
    {"title": "Fungi", "width": 194, "height": 244, "layer": [
      {"data": {"name": "curves"}, "transform": [{"filter": "datum.t === 'Fungi'"}], "mark": {"type": "line", "color": "#FF00FF"},
       "encoding": {"x": {"field": "x", "type": "quantitative", "title": "C stock stand alive", "scale": {"domain": [-0.63, 3.47], "nice": false, "zero": false}, "axis": {"values": [0, 1, 2, 3], "format": "d"}},
                    "y": {"field": "y", "type": "quantitative", "title": "scaled species richness", "scale": {"domain": [-0.172, 0.321], "nice": false, "zero": false}, "axis": {"values": [-0.1, 0, 0.1, 0.2, 0.3], "labelExpr": "datum.value < 0 ? '-' + format(-datum.value, '.1f') : format(datum.value, '.1f')"}},
                    "strokeDash": {"field": "m", "type": "nominal", "scale": {"domain": ["solid", "dashed"], "range": [[1, 0], [6, 3]]}, "legend": null}}},
      {"data": {"name": "rug"}, "transform": [{"filter": "datum.t === 'Fungi'"}], "mark": {"type": "rule"},
       "encoding": {"x": {"field": "x", "type": "quantitative"}, "y": {"datum": 0.321}, "y2": {"datum": 0.3062}}}
    ]},
    {"title": "Lichens", "width": 194, "height": 244, "layer": [
      {"data": {"name": "curves"}, "transform": [{"filter": "datum.t === 'Lichens'"}], "mark": {"type": "line", "color": "#E69F00"},
       "encoding": {"x": {"field": "x", "type": "quantitative", "title": "C stock stand alive", "scale": {"domain": [-0.36, 3.06], "nice": false, "zero": false}, "axis": {"values": [0, 1, 2, 3], "format": "d"}},
                    "y": {"field": "y", "type": "quantitative", "title": "scaled species richness", "scale": {"domain": [-0.172, 0.321], "nice": false, "zero": false}, "axis": {"values": [-0.1, 0, 0.1, 0.2, 0.3], "labelExpr": "datum.value < 0 ? '-' + format(-datum.value, '.1f') : format(datum.value, '.1f')"}},
                    "strokeDash": {"field": "m", "type": "nominal", "scale": {"domain": ["solid", "dashed"], "range": [[1, 0], [6, 3]]}, "legend": null}}},
      {"data": {"name": "rug"}, "transform": [{"filter": "datum.t === 'Lichens'"}], "mark": {"type": "rule"},
       "encoding": {"x": {"field": "x", "type": "quantitative"}, "y": {"datum": 0.321}, "y2": {"datum": 0.3062}}}
    ]},
    {"title": "Vascular Plants", "width": 194, "height": 244, "layer": [
      {"data": {"name": "curves"}, "transform": [{"filter": "datum.t === 'Vascular Plants'"}], "mark": {"type": "line", "color": "#009E73"},
       "encoding": {"x": {"field": "x", "type": "quantitative", "title": "C stock stand alive", "scale": {"domain": [-0.76, 3.4], "nice": false, "zero": false}, "axis": {"values": [0, 1, 2, 3], "format": "d"}},
                    "y": {"field": "y", "type": "quantitative", "title": "scaled species richness", "scale": {"domain": [-0.172, 0.321], "nice": false, "zero": false}, "axis": {"values": [-0.1, 0, 0.1, 0.2, 0.3], "labelExpr": "datum.value < 0 ? '-' + format(-datum.value, '.1f') : format(datum.value, '.1f')"}},
                    "strokeDash": {"field": "m", "type": "nominal", "scale": {"domain": ["solid", "dashed"], "range": [[1, 0], [6, 3]]}, "legend": null}}},
      {"data": {"name": "rug"}, "transform": [{"filter": "datum.t === 'Vascular Plants'"}], "mark": {"type": "rule"},
       "encoding": {"x": {"field": "x", "type": "quantitative"}, "y": {"datum": 0.321}, "y2": {"datum": 0.3062}}}
    ]}
  ]
}
